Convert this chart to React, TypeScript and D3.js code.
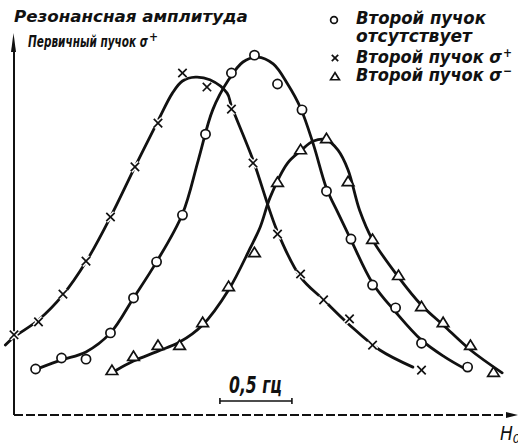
import React, { useLayoutEffect, useRef, useState } from "react";
import * as d3 from "d3";

const W = 518;
const H = 445;

// Frequency offset (Hz) and resonance amplitude (arb. units) of the measured points
const noBeamX = [0.15, 0.33, 0.5, 0.67, 0.83, 0.99, 1.17, 1.33, 1.51, 1.67, 1.83, 2.0, 2.17, 2.34, 2.49, 2.65, 2.83, 3.15];
const noBeamY = [12.1, 15.0, 14.7, 21.6, 30.8, 40.3, 52.6, 73.9, 90.0, 94.7, 87.1, 80.3, 58.9, 46.3, 34.2, 28.2, 18.9, 12.6];

const plusBeamX = [0, 0.17, 0.34, 0.5, 0.67, 0.84, 1.0, 1.17, 1.34, 1.51, 1.66, 1.83, 1.99, 2.15, 2.33, 2.49, 2.83];
const plusBeamY = [21.1, 24.5, 31.8, 40.5, 52.1, 65.3, 76.8, 90.0, 86.3, 80.5, 66.3, 47.6, 37.1, 30.3, 25.3, 18.4, 11.8];

const minusBeamX = [0.68, 0.83, 1.0, 1.15, 1.31, 1.49, 1.67, 1.83, 1.99, 2.17, 2.32, 2.49, 2.67, 2.83, 2.98, 3.17, 3.33];
const minusBeamY = [11.6, 15.3, 18.2, 18.2, 24.2, 33.7, 42.6, 61.1, 69.7, 72.6, 61.3, 46.1, 36.6, 28.4, 24.2, 18.2, 11.1];

// Hand-faired resonance curves through each set of points
const noBeamFitX = [0.18, 0.33, 0.5, 0.67, 0.83, 0.99, 1.17, 1.28, 1.38, 1.49, 1.59, 1.69, 1.8, 1.9, 1.99, 2.08, 2.17, 2.25, 2.34, 2.49, 2.65, 2.83, 2.99, 3.12];
const noBeamFitY = [12.4, 14.5, 16.6, 21.6, 30.8, 40.3, 52.9, 67.1, 80.3, 88.2, 92.9, 94.2, 92.4, 87.1, 80.8, 71.1, 59.7, 53.2, 46.1, 34.7, 27.1, 19.7, 15.3, 12.4];

const plusBeamFitX = [-0.06, 0, 0.17, 0.34, 0.5, 0.67, 0.84, 1.0, 1.1, 1.17, 1.26, 1.36, 1.48, 1.51, 1.66, 1.83, 1.99, 2.15, 2.33, 2.54, 2.77];
const plusBeamFitY = [18.4, 20.5, 25.0, 31.6, 40.3, 52.1, 65.3, 77.4, 84.7, 87.9, 88.9, 88.2, 84.7, 81.3, 67.1, 48.2, 36.3, 30.3, 23.7, 17.1, 12.6];

const minusBeamFitX = [0.71, 0.83, 1.0, 1.15, 1.31, 1.49, 1.64, 1.71, 1.78, 1.9, 1.99, 2.08, 2.17, 2.25, 2.32, 2.4, 2.49, 2.67, 2.83, 2.98, 3.17, 3.39];
const minusBeamFitY = [11.8, 14.2, 16.8, 19.2, 23.7, 32.9, 43.9, 49.5, 57.4, 66.3, 69.5, 72.1, 72.4, 69.7, 64.5, 53.9, 46.1, 36.3, 28.9, 23.7, 17.1, 11.1];

// Scale bar: 0.5 Hz
const scaleBarStart = 1.43;
const scaleBarLength = 0.5;
const scaleBarLevel = 3.7;
const scaleBarLabel = "0,5 гц";

const yTitle = "Резонансная амплитуда";
const subTitle = "Первичный пучок σ";
const legendLabels = ["Второй пучок", "отсутствует", "Второй пучок σ", "Второй пучок σ"];
const legendSigns = ["", "", "+", "−"];
const xTitle = "H";

const x = d3.scaleLinear().domain([0, 3.5]).range([14, 518]);
const y = d3.scaleLinear().domain([0, 100]).range([415, 35]);

const zip = (xs: number[], ys: number[]) => xs.map((v, i) => [v, ys[i]] as [number, number]);

const curve = d3
  .line<[number, number]>()
  .x((d) => x(d[0]))
  .y((d) => y(d[1]))
  .curve(d3.curveCatmullRom.alpha(0.5));

const FONT = "'DejaVu Sans Condensed', 'DejaVu Sans', sans-serif";
const INK = "#111";

const Circle = ({ cx, cy, r = 4.6 }: { cx: number; cy: number; r?: number }) => (
  <circle cx={cx} cy={cy} r={r} fill="#fff" stroke={INK} strokeWidth={1.7} />
);

const Cross = ({ cx, cy, s = 4.2, halo = true }: { cx: number; cy: number; s?: number; halo?: boolean }) => {
  const arms = (
    <>
      <line x1={cx - s} y1={cy - s} x2={cx + s} y2={cy + s} />
      <line x1={cx - s} y1={cy + s} x2={cx + s} y2={cy - s} />
    </>
  );
  return (
    <g>
      {halo && (
        <g stroke="#fff" strokeWidth={4.5}>
          {arms}
        </g>
      )}
      <g stroke={INK} strokeWidth={1.7}>
        {arms}
      </g>
    </g>
  );
};

const Triangle = ({ cx, cy, s = 5.8 }: { cx: number; cy: number; s?: number }) => {
  const pts = `${cx},${cy - s} ${cx - s},${cy + s * 0.62} ${cx + s},${cy + s * 0.62}`;
  return <polygon points={pts} fill="#fff" stroke={INK} strokeWidth={1.7} strokeLinejoin="miter" />;
};

const textStyle = { fontFamily: FONT, fontStyle: "oblique" as const, fontWeight: 700, fill: INK };

// Text squeezed horizontally to a given width while keeping its height
const Label = ({
  x0,
  y0,
  width,
  text,
  sign = "",
  size = 16,
}: {
  x0: number;
  y0: number;
  width: number;
  text: string;
  sign?: string;
  size?: number;
}) => {
  const ref = useRef<SVGTextElement>(null);
  const [sx, setSx] = useState(1);
  useLayoutEffect(() => {
    if (ref.current) {
      const len = ref.current.getComputedTextLength();
      if (len > 0) setSx(width / len);
    }
  }, [width, text, size]);
  return (
    <g>
      <g transform={`translate(${x0},${y0}) scale(${sx},1)`}>
        <text ref={ref} x={0} y={0} fontSize={size} {...textStyle}>
          {text}
        </text>
      </g>
      {sign && (
        <text x={x0 + width + 1} y={y0 - 6} fontSize={12} {...textStyle}>
          {sign}
        </text>
      )}
    </g>
  );
};

export default function App() {
  const x0 = x(0);
  const y0 = y(0);
  const yTop = y.range()[1] - 2;
  const xEnd = x.range()[1];

  return (
    <svg
      width={W}
      height={H}
      viewBox={`0 0 ${W} ${H}`}
      style={{ position: "fixed", left: 0, top: 0, background: "#fff" }}
    >
      <rect width={W} height={H} fill="#fff" />

      {/* axes */}
      <line x1={x0} y1={y0} x2={x0} y2={yTop + 14} stroke={INK} strokeWidth={2} />
      <polygon points={`${x0 - 0.5},${yTop} ${x0 - 3},${yTop + 19} ${x0 + 2},${yTop + 19}`} fill={INK} />
      <line x1={x0} y1={y0} x2={xEnd - 8} y2={y0} stroke={INK} strokeWidth={2.2} strokeDasharray="9 3" />
      <polygon points={`${xEnd},${y0} ${xEnd - 12},${y0 - 3} ${xEnd - 12},${y0 + 3}`} fill={INK} />

      {/* fitted curves */}
      <g fill="none" stroke={INK} strokeWidth={2.8} strokeLinecap="round">
        <path d={curve(zip(plusBeamFitX, plusBeamFitY)) || ""} />
        <path d={curve(zip(noBeamFitX, noBeamFitY)) || ""} />
        <path d={curve(zip(minusBeamFitX, minusBeamFitY)) || ""} />
      </g>

      {/* measured points */}
      {plusBeamX.map((v, i) => (
        <Cross key={`p${i}`} cx={x(v)} cy={y(plusBeamY[i])} />
      ))}
      {noBeamX.map((v, i) => (
        <Circle key={`n${i}`} cx={x(v)} cy={y(noBeamY[i])} />
      ))}
      {minusBeamX.map((v, i) => (
        <Triangle key={`m${i}`} cx={x(v)} cy={y(minusBeamY[i])} />
      ))}

      {/* scale bar */}
      <g stroke={INK} strokeWidth={1.6}>
        <line x1={x(scaleBarStart)} y1={y(scaleBarLevel)} x2={x(scaleBarStart + scaleBarLength)} y2={y(scaleBarLevel)} />
        <line x1={x(scaleBarStart)} y1={y(scaleBarLevel) - 3} x2={x(scaleBarStart)} y2={y(scaleBarLevel) + 3} />
        <line
          x1={x(scaleBarStart + scaleBarLength)}
          y1={y(scaleBarLevel) - 3}
          x2={x(scaleBarStart + scaleBarLength)}
          y2={y(scaleBarLevel) + 3}
        />
      </g>
      <Label x0={229} y0={393} width={53} text={scaleBarLabel} size={23} />

      {/* titles */}
      <Label x0={14} y0={22} width={234} text={yTitle} size={16} />
      <Label x0={28} y0={47} width={120} text={subTitle} sign="+" size={16} />

      {/* legend */}
      <Circle cx={334} cy={20} r={3.4} />
      <Label x0={356} y0={24} width={130} text={legendLabels[0]} size={17} />
      <Label x0={356} y0={42} width={116} text={legendLabels[1]} size={17} />
      <Cross cx={335} cy={58} s={3.2} halo={false} />
      <Label x0={356} y0={63} width={146} text={legendLabels[2]} sign={legendSigns[2]} size={17} />
      <Triangle cx={335} cy={77} s={4.4} />
      <Label x0={356} y0={81} width={146} text={legendLabels[3]} sign={legendSigns[3]} size={17} />

      {/* x-axis title */}
      <text x={500} y={440} fontSize={19} {...textStyle} fontWeight={400}>
        {xTitle}
        <tspan fontSize={13} dy={3}>0</tspan>
      </text>
    </svg>
  );
}
